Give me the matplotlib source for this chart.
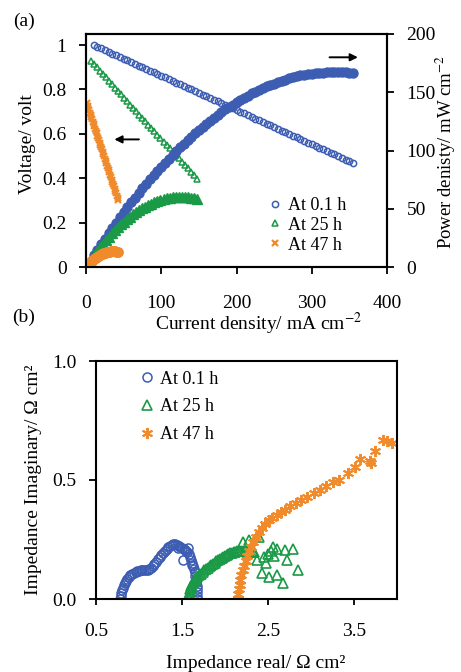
import matplotlib
matplotlib.use('Agg')
import matplotlib.pyplot as plt
import numpy as np

plt.rcParams['font.family'] = ['Liberation Serif', 'DejaVu Serif']
plt.rcParams['mathtext.fontset'] = 'stix'

BLUE = '#3d5db3'
GREEN = '#1a9a46'
ORANGE = '#f08a2a'

# (a) polarisation data: current density (mA cm-2) and voltage (V)
j_01 = [10, 15, 20, 25, 30, 35, 40, 45, 50, 55, 60, 65, 70, 75, 80, 85, 90, 95,
        100, 105, 110, 115, 120, 125, 130, 135, 140, 145, 150, 155, 160, 165,
        170, 175, 180, 185, 190, 195, 200, 205, 210, 215, 220, 225, 230, 235,
        240, 245, 250, 255, 260, 265, 270, 275, 280, 285, 290, 295, 300, 305,
        310, 315, 320, 325, 330, 335, 340, 345, 350, 355]
v_01 = [1.000, 0.992, 0.985, 0.977, 0.969, 0.962, 0.954, 0.946, 0.938, 0.931,
        0.923, 0.915, 0.908, 0.900, 0.892, 0.885, 0.877, 0.869, 0.861, 0.854,
        0.846, 0.838, 0.831, 0.823, 0.815, 0.808, 0.800, 0.792, 0.784, 0.777,
        0.769, 0.761, 0.754, 0.746, 0.738, 0.731, 0.723, 0.715, 0.707, 0.700,
        0.692, 0.684, 0.677, 0.669, 0.661, 0.654, 0.646, 0.638, 0.630, 0.623,
        0.615, 0.607, 0.600, 0.592, 0.584, 0.577, 0.569, 0.561, 0.553, 0.546,
        0.538, 0.530, 0.523, 0.515, 0.507, 0.500, 0.492, 0.484, 0.476, 0.469]

j_25 = [7, 11, 15, 19, 23, 27, 31, 35, 39, 43, 47, 51, 55, 59, 63, 67, 71, 75,
        79, 83, 87, 91, 95, 99, 103, 107, 111, 115, 119, 123, 127, 131, 135,
        139, 143, 147]
v_25 = [0.930, 0.915, 0.900, 0.884, 0.869, 0.854, 0.839, 0.824, 0.808, 0.793,
        0.778, 0.763, 0.748, 0.732, 0.717, 0.702, 0.687, 0.672, 0.656, 0.641,
        0.626, 0.611, 0.596, 0.580, 0.565, 0.550, 0.535, 0.520, 0.504, 0.489,
        0.474, 0.459, 0.444, 0.428, 0.413, 0.398]

j_47 = [1, 2, 3, 4, 5, 6, 7, 8, 9, 10, 11, 12, 13, 14, 15, 16, 17, 18, 19, 20,
        21, 22, 23, 24, 25, 26, 27, 28, 29, 30, 31, 32, 33, 34, 35, 36, 37, 38,
        39, 40, 41, 42, 43]
v_47 = [0.738, 0.727, 0.717, 0.707, 0.696, 0.686, 0.675, 0.665, 0.655, 0.644,
        0.634, 0.623, 0.613, 0.602, 0.592, 0.582, 0.571, 0.561, 0.550, 0.540,
        0.530, 0.519, 0.509, 0.498, 0.488, 0.478, 0.467, 0.457, 0.446, 0.436,
        0.426, 0.415, 0.405, 0.394, 0.384, 0.374, 0.363, 0.353, 0.342, 0.332,
        0.322, 0.311, 0.301]

# power density = voltage x current density (mW cm-2)
p_01 = np.array(v_01) * np.array(j_01)
p_25 = np.array(v_25) * np.array(j_25)
p_47 = np.array(v_47) * np.array(j_47)

# (b) impedance spectra (ohm cm2)
zr_01 = [0.78, 0.785, 0.79, 0.80, 0.81, 0.82, 0.835, 0.85, 0.865, 0.88, 0.90,
         0.92, 0.94, 0.96, 0.98, 1.00, 1.02, 1.04, 1.06, 1.08, 1.10, 1.12, 1.14,
         1.16, 1.18, 1.20, 1.22, 1.24, 1.26, 1.28, 1.30, 1.32, 1.34, 1.36, 1.38,
         1.40, 1.42, 1.44, 1.46, 1.48, 1.50, 1.52, 1.54, 1.56, 1.58, 1.595,
         1.61, 1.62, 1.63, 1.64, 1.65, 1.655, 1.66, 1.665, 1.67, 1.675, 1.678,
         1.68, 1.68, 1.51, 1.55, 1.57, 1.62, 1.45]
zi_01 = [0.000, 0.012, 0.024, 0.036, 0.047, 0.057, 0.067, 0.077, 0.085, 0.092,
         0.099, 0.105, 0.110, 0.114, 0.117, 0.119, 0.120, 0.121, 0.121, 0.121,
         0.122, 0.124, 0.130, 0.138, 0.147, 0.157, 0.166, 0.175, 0.184, 0.193,
         0.202, 0.210, 0.217, 0.223, 0.228, 0.231, 0.231, 0.228, 0.223, 0.218,
         0.214, 0.210, 0.205, 0.198, 0.189, 0.178, 0.165, 0.152, 0.139, 0.126,
         0.112, 0.098, 0.084, 0.070, 0.056, 0.042, 0.028, 0.014, 0.002, 0.164,
         0.200, 0.215, 0.143, 0.215]

zr_25 = [1.58, 1.582, 1.585, 1.59, 1.595, 1.60, 1.61, 1.62, 1.635, 1.65, 1.665,
         1.68, 1.70, 1.72, 1.74, 1.76, 1.78, 1.80, 1.82, 1.84, 1.86, 1.88, 1.90,
         1.92, 1.94, 1.96, 1.98, 2.00, 2.02, 2.04, 2.06, 2.08, 2.10, 2.12, 2.14,
         2.16, 2.18, 2.20, 2.22, 2.24, 2.26, 2.28, 2.30, 2.32, 2.34,
         2.21, 2.28, 2.39, 2.56, 2.61, 2.70, 2.79, 2.72, 2.85, 2.43, 2.51, 2.60,
         2.68, 2.48, 2.53, 2.45, 2.37, 2.50, 2.57]
zi_25 = [0.000, 0.010, 0.020, 0.030, 0.040, 0.048, 0.056, 0.064, 0.072, 0.080,
         0.087, 0.094, 0.101, 0.107, 0.114, 0.120, 0.126, 0.132, 0.137, 0.143,
         0.148, 0.153, 0.158, 0.163, 0.168, 0.172, 0.177, 0.181, 0.185, 0.189,
         0.192, 0.195, 0.197, 0.199, 0.200, 0.201, 0.201, 0.201, 0.200, 0.200,
         0.199, 0.199, 0.198, 0.197, 0.196,
         0.240, 0.250, 0.260, 0.220, 0.210, 0.206, 0.210, 0.164, 0.122, 0.108,
         0.094, 0.100, 0.066, 0.150, 0.200, 0.178, 0.164, 0.190, 0.180]

zr_47 = [2.15, 2.155, 2.16, 2.17, 2.18, 2.19, 2.21, 2.22, 2.24, 2.26, 2.28,
         2.30, 2.33, 2.36, 2.39, 2.43, 2.47, 2.51, 2.55, 2.60, 2.65, 2.70, 2.76,
         2.82, 2.88, 2.95, 3.03, 3.10, 3.18, 3.26, 3.33, 3.43, 3.51, 3.57, 3.69,
         3.70, 3.74, 3.84, 3.88, 3.94]
zi_47 = [0.0, 0.02, 0.04, 0.06, 0.08, 0.10, 0.12, 0.14, 0.16, 0.18, 0.20, 0.22,
         0.24, 0.26, 0.28, 0.30, 0.315, 0.33, 0.34, 0.355, 0.365, 0.375, 0.39,
         0.405, 0.415, 0.43, 0.445, 0.46, 0.475, 0.49, 0.50, 0.528, 0.555,
         0.59, 0.578, 0.57, 0.62, 0.668, 0.665, 0.654]

labels = ['At 0.1 h', 'At 25 h', 'At 47 h']

fig = plt.figure(figsize=(4.61, 6.72), dpi=100)
W, H = 461, 672

# ---------- (a) ----------
ax1 = fig.add_axes([86 / W, 1 - 267 / H, 301 / W, 233 / H])
ax2 = ax1.twinx()

l1, = ax1.plot(j_01, v_01, 'o', ms=4.5, mfc='none', mec=BLUE, mew=1.1)
l2, = ax1.plot(j_25, v_25, '^', ms=4.5, mfc='none', mec=GREEN, mew=1.1)
l3, = ax1.plot(j_47, v_47, 'x', ms=4.5, mec=ORANGE, mew=1.6)

ax2.plot(j_01, p_01, 'o', ms=6.5, color=BLUE, mec=BLUE)
ax2.plot(j_25, p_25, '^', ms=6.5, color=GREEN, mec=GREEN)
ax2.plot(j_47, p_47, 'o', ms=6.5, color=ORANGE, mec=ORANGE)

ax1.set_xlim(0, 400)
ax1.set_ylim(0, 1.05)
ax2.set_ylim(0, 200)
ax1.set_xticks([0, 100, 200, 300, 400])
ax1.set_yticks([0, 0.2, 0.4, 0.6, 0.8, 1.0])
ax1.set_yticklabels(['0', '0.2', '0.4', '0.6', '0.8', '1'])
ax2.set_yticks([0, 50, 100, 150, 200])

ax1.tick_params(axis='y', direction='out', length=5, width=1.3, labelsize=14, pad=9)
ax1.tick_params(axis='x', direction='out', length=5, width=1.3, labelsize=14, pad=15)
ax2.tick_params(axis='y', direction='out', length=5, width=1.3, labelsize=14, pad=9)
for ax in (ax1, ax2):
    for s in ax.spines.values():
        s.set_linewidth(1.5)

ax1.annotate('', xy=(34, 0.575), xytext=(74, 0.575),
             arrowprops=dict(arrowstyle='-|>', color='black', lw=1.4, mutation_scale=11))
ax1.annotate('', xy=(365, 0.945), xytext=(320, 0.945),
             arrowprops=dict(arrowstyle='-|>', color='black', lw=1.4, mutation_scale=11))

ax1.legend([l1, l2, l3], labels, loc='upper left', bbox_to_anchor=(0.605, 0.30),
           frameon=False, fontsize=13, handlelength=0.8, handletextpad=0.3,
           borderpad=0, borderaxespad=0, labelspacing=0.15)

fig.text(24 / W, 1 - 21 / H, '(a)', fontsize=14, ha='center', va='center')
fig.text(28 / W, 1 - 144 / H, 'Voltage/ volt', fontsize=14, rotation=90,
         ha='center', va='center')
fig.text(446 / W, 1 - 152 / H, 'Power denisty/ mW cm$^{-2}$', fontsize=13.5,
         rotation=90, ha='center', va='center')
fig.text(259 / W, 1 - 324 / H, 'Current density/ mA cm$^{-2}$', fontsize=14,
         ha='center', va='center')

# ---------- (b) ----------
ax3 = fig.add_axes([96 / W, 1 - 599 / H, 301 / W, 238 / H])
m1, = ax3.plot(zr_01, zi_01, 'o', ms=6.5, mfc='none', mec=BLUE, mew=1.1)
m2, = ax3.plot(zr_25, zi_25, '^', ms=7.5, mfc='none', mec=GREEN, mew=1.2)
m3, = ax3.plot(zr_47, zi_47, marker=(6, 2, 0), ls='none', ms=8, mec=ORANGE, mew=1.4)

ax3.set_xlim(0.5, 4.0)
ax3.set_ylim(0, 1.0)
ax3.set_xticks([0.5, 1.5, 2.5, 3.5])
ax3.set_yticks([0.0, 0.5, 1.0])
ax3.set_yticklabels(['0.0', '0.5', '1.0'])
ax3.tick_params(axis='y', direction='out', length=5, width=1.3, labelsize=14, pad=9)
ax3.tick_params(axis='x', direction='out', length=4, width=1.3, labelsize=14, pad=13)
for s in ax3.spines.values():
    s.set_linewidth(1.5)

ax3.legend([m1, m2, m3], labels, loc='upper left', bbox_to_anchor=(0.145, 0.96),
           frameon=False, fontsize=13, handlelength=0.8, handletextpad=0.3,
           borderpad=0, borderaxespad=0, labelspacing=0.6)

fig.text(24 / W, 1 - 317 / H, '(b)', fontsize=14, ha='center', va='center')
fig.text(33 / W, 1 - 480 / H, 'Impedance Imaginary/ Ω cm²', fontsize=14,
         rotation=90, ha='center', va='center')
fig.text(256 / W, 1 - 663 / H, 'Impedance real/ Ω cm²', fontsize=14,
         ha='center', va='center')

fig.savefig('out.png', dpi=100)
